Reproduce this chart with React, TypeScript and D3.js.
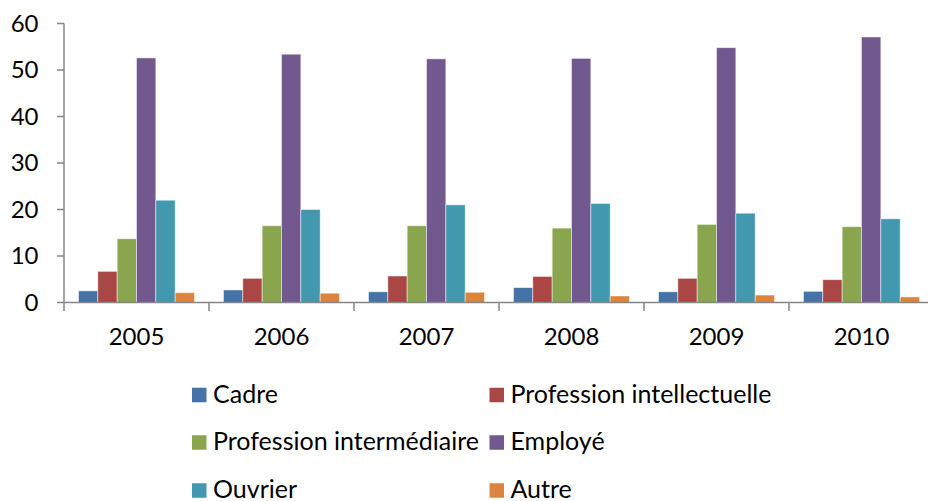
import React from "react";
import * as d3 from "d3";

const years = ["2005", "2006", "2007", "2008", "2009", "2010"];
const seriesNames = [
  "Cadre",
  "Profession intellectuelle",
  "Profession intermédiaire",
  "Employé",
  "Ouvrier",
  "Autre",
];
const cadre = [2.5, 2.7, 2.3, 3.2, 2.3, 2.4];
const intellectuelle = [6.7, 5.2, 5.7, 5.6, 5.2, 4.9];
const intermediaire = [13.7, 16.5, 16.5, 16.0, 16.8, 16.3];
const employe = [52.6, 53.4, 52.4, 52.5, 54.8, 57.1];
const ouvrier = [22.0, 20.0, 21.0, 21.3, 19.2, 18.0];
const autre = [2.1, 2.0, 2.2, 1.4, 1.6, 1.2];
const yTicks = [0, 10, 20, 30, 40, 50, 60];

const seriesValues = [cadre, intellectuelle, intermediaire, employe, ouvrier, autre];
const colors = ["#4572A7", "#AA4643", "#89A54E", "#71588F", "#4198AF", "#DB843D"];

const W = 928;
const H = 501;
const left = 64;
const right = 934;
const top = 23.5;
const bottom = 302.5;
const font = "Lato, 'Open Sans', sans-serif";
const axisColor = "#868686";

export default function App() {
  const x = d3.scaleBand<string>().domain(years).range([left, right]);
  const xInner = d3
    .scaleBand<number>()
    .domain(d3.range(seriesNames.length))
    .range([0, x.bandwidth()])
    .paddingInner(0)
    .paddingOuter(0.75);
  const y = d3.scaleLinear().domain([0, 60]).range([bottom, top]);

  const legendCols = [192, 489.5];
  const legendRows = [395, 442.5, 490.5];
  const sq = 14.5;

  return (
    <svg
      width={W}
      height={H}
      style={{ position: "absolute", left: 0, top: 0, background: "#fff" }}
      fontFamily={font}
    >
      {/* bars */}
      <g>
        {seriesValues.map((vals, si) =>
          vals.map((v, yi) => (
            <rect
              key={`${si}-${yi}`}
              x={(x(years[yi]) as number) + (xInner(si) as number)}
              y={y(v)}
              width={xInner.bandwidth()}
              height={y(0) - y(v)}
              fill={colors[si]}
              stroke="#ffffff"
              strokeOpacity={0.6}
              strokeWidth={0.8}
            />
          ))
        )}
      </g>

      {/* y axis */}
      <g>
        <line x1={left} x2={left} y1={top} y2={bottom + 8.5} stroke={axisColor} strokeWidth={1.5} />
        {yTicks.map((t) => (
          <g key={t}>
            <line x1={left - 7} x2={left} y1={y(t)} y2={y(t)} stroke={axisColor} strokeWidth={1.5} />
            <text
              x={38.5}
              y={y(t)}
              dy="0.35em"
              textAnchor="end"
              fontSize={24}
              fill="#000"
            >
              {t}
            </text>
          </g>
        ))}
      </g>

      {/* x axis */}
      <g>
        <line x1={left} x2={right} y1={bottom} y2={bottom} stroke={axisColor} strokeWidth={1.5} />
        {years.map((yr) => (
          <g key={yr}>
            <line
              x1={(x(yr) as number) + x.bandwidth()}
              x2={(x(yr) as number) + x.bandwidth()}
              y1={bottom}
              y2={bottom + 8.5}
              stroke={axisColor}
              strokeWidth={1.5}
            />
            <text
              x={(x(yr) as number) + x.bandwidth() / 2}
              y={345}
              textAnchor="middle"
              fontSize={24}
              fill="#000"
            >
              {yr}
            </text>
          </g>
        ))}
      </g>

      {/* legend */}
      <g>
        {seriesNames.map((name, i) => {
          const cx = legendCols[i % 2];
          const cy = legendRows[Math.floor(i / 2)];
          return (
            <g key={name}>
              <rect x={cx} y={cy - sq / 2} width={sq} height={sq} fill={colors[i]} />
              <text x={cx + sq + 6.5} y={cy + 7.5} fontSize={25} fill="#000">
                {name}
              </text>
            </g>
          );
        })}
      </g>
    </svg>
  );
}
